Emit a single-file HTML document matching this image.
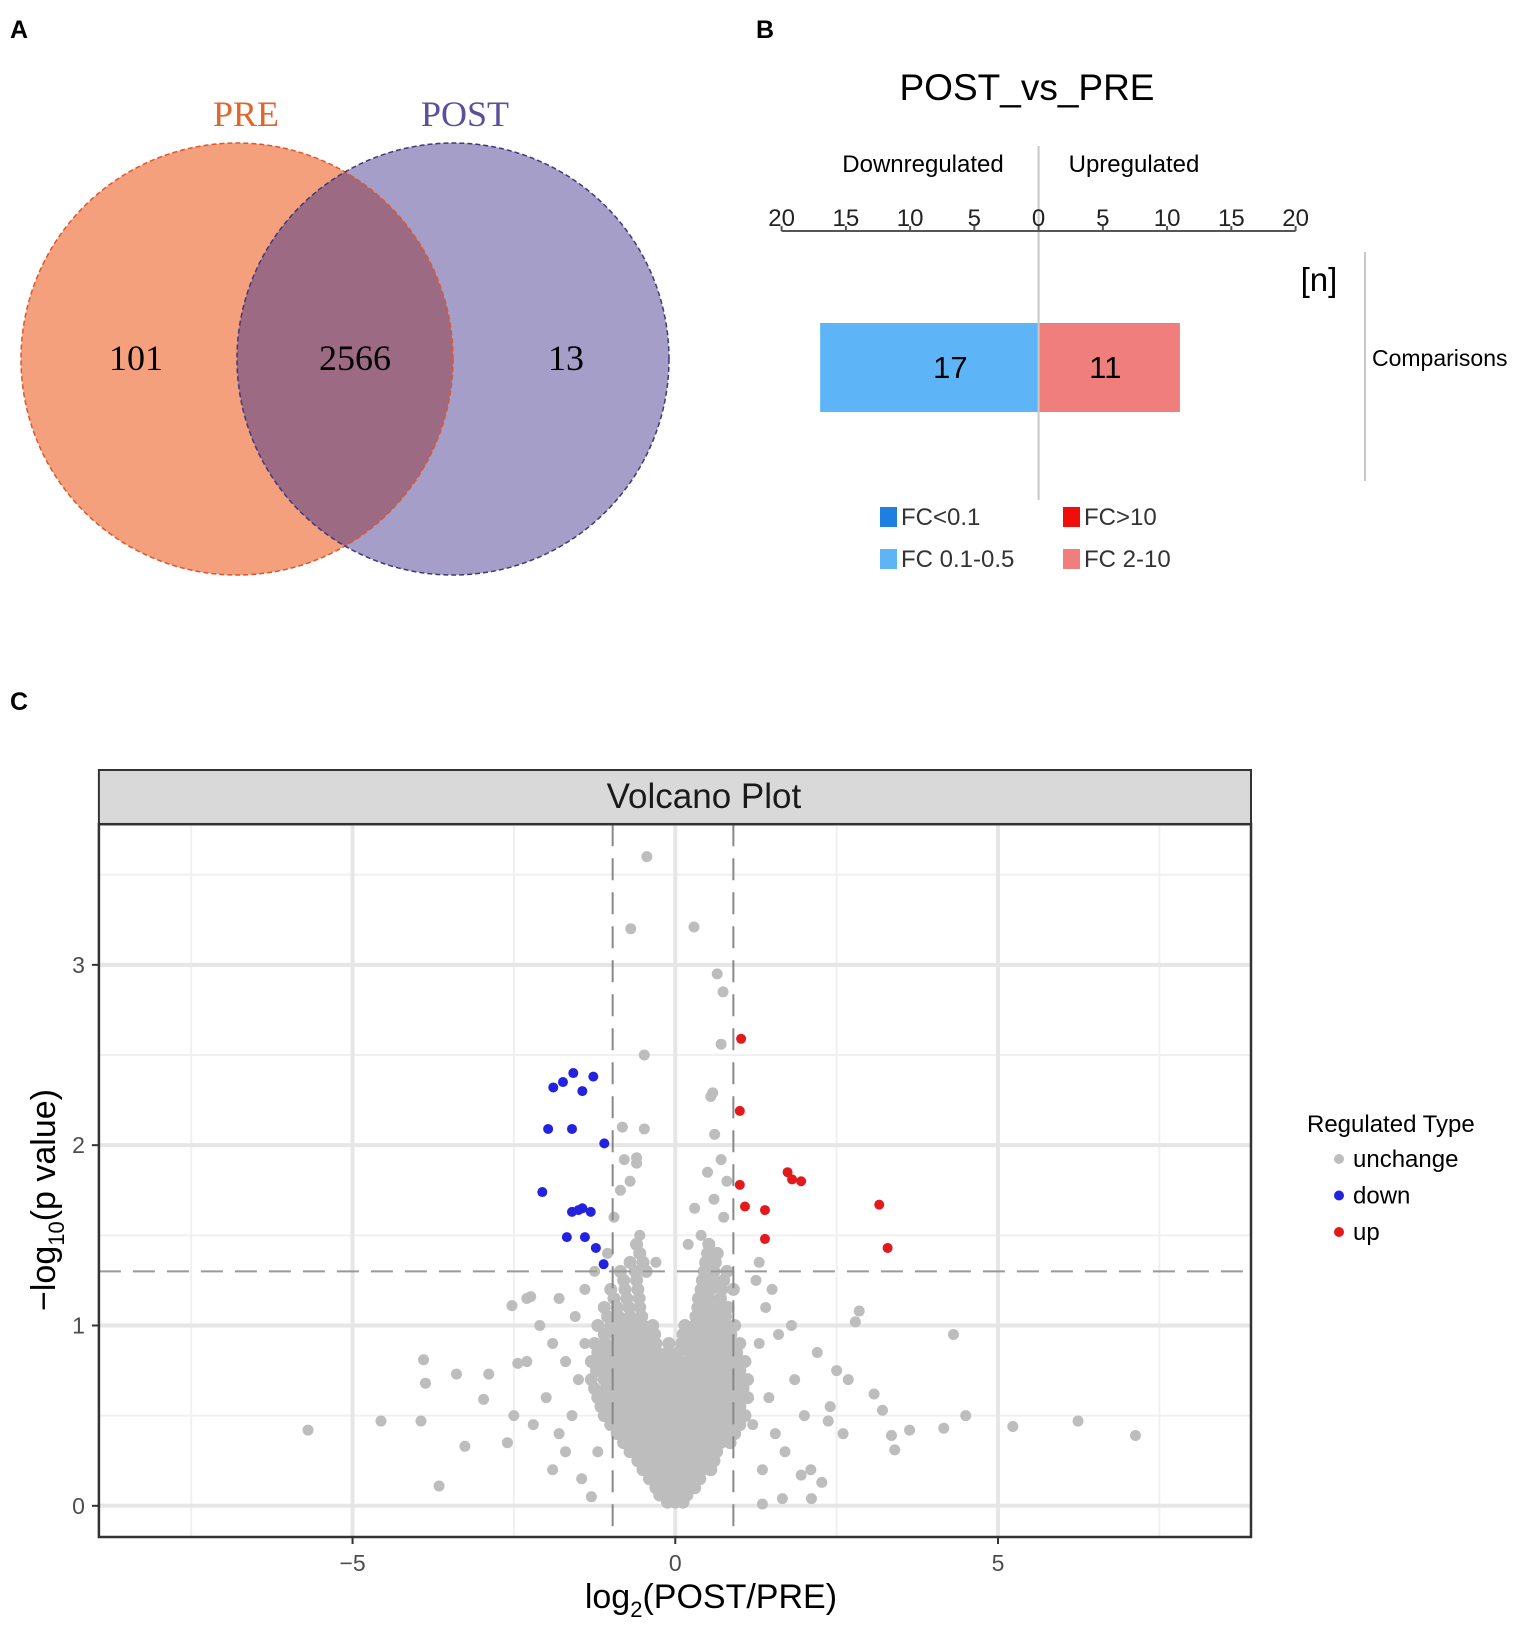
<!DOCTYPE html>
<html><head><meta charset="utf-8"><style>
html,body{margin:0;padding:0;background:#fff}
svg{display:block;font-family:"Liberation Sans",sans-serif}
</style></head><body>
<svg id="fig" width="1535" height="1636" viewBox="0 0 1535 1636" xmlns="http://www.w3.org/2000/svg">
<text x="10" y="38" font-size="25" font-weight="bold">A</text>
<text x="756" y="38" font-size="25" font-weight="bold">B</text>
<text x="10" y="710" font-size="25" font-weight="bold">C</text>

<g font-family="Liberation Serif,serif">
<defs><clipPath id="clipPre"><circle cx="237" cy="359" r="216"/></clipPath></defs>
<circle cx="237" cy="359" r="216" fill="#f4a07d"/>
<circle cx="453" cy="359" r="216" fill="#a49ec9"/>
<circle cx="453" cy="359" r="216" fill="#9d6a83" clip-path="url(#clipPre)"/>
<circle cx="237" cy="359" r="216" fill="none" stroke="#e0552b" stroke-width="1.5" stroke-dasharray="5,3"/>
<circle cx="453" cy="359" r="216" fill="none" stroke="#3d3a7a" stroke-width="1.5" stroke-dasharray="5,3"/>
<text x="246" y="126" font-size="36" fill="#e0662e" text-anchor="middle">PRE</text>
<text x="465" y="126" font-size="36" fill="#5a4f9a" text-anchor="middle">POST</text>
<text x="136" y="370" font-size="36" text-anchor="middle">101</text>
<text x="355" y="370" font-size="36" text-anchor="middle">2566</text>
<text x="566" y="370" font-size="36" text-anchor="middle">13</text>
</g>

<g id="barB"></g>
<g id="volc"></g>
</svg>
<script>
// ---------- Panel B data ----------
const barTicks=[20,15,10,5,0,5,10,15,20];
const downCount=17;
const upCount=11;
// ---------- Volcano data ----------
const xTicks=[-5,0,5];
const yTicks=[0,1,2,3];
const downX=[-1.89,-1.74,-1.58,-1.27,-1.44,-1.97,-1.6,-1.1,-2.06,-1.6,-1.44,-1.31,-1.5,-1.68,-1.4,-1.23,-1.11];
const downY=[2.32,2.35,2.40,2.38,2.30,2.09,2.09,2.01,1.74,1.63,1.65,1.63,1.64,1.49,1.49,1.43,1.34];
const upX=[1.02,1.0,1.0,1.08,1.39,1.39,1.74,1.81,1.95,3.16,3.29];
const upY=[2.59,2.19,1.78,1.66,1.64,1.48,1.85,1.81,1.80,1.67,1.43];
const grayX=[-0.44,-0.69,0.29,0.65,0.74,-0.48,0.71,0.58,0.55,-0.48,-0.82,-0.79,-0.6,0.61,0.71,-5.69,-4.56,-3.9,-3.87,-3.94,-3.66,-3.39,-3.26,-2.89,-2.97,-2.53,-2.44,-2.24,4.31,4.5,5.23,6.24,7.13,2.79,2.85,3.21,3.35,3.4,3.63,4.16,2.68,2.37,2.11,1.66,1.35,1.95,2.27,3.08,
-1.4,-1.5,-1.6,-1.8,-1.9,-1.7,-2.0,-2.2,-1.55,-1.8,-2.1,-2.3,-2.5,-2.6,-1.45,-1.3,-1.9,-2.3,-1.7,-1.4,1.3,1.45,1.55,1.7,1.85,2.0,2.1,1.4,1.6,1.8,2.2,2.4,2.5,1.25,1.3,1.35,2.6,1.5,1.2,-1.2,-1.25,-1.05,-0.95,-0.7,-0.55,0.4,0.6,0.75,0.2,-0.3,-0.6,0.5,0.8,-0.85,0.3];
const grayY=[3.6,3.2,3.21,2.95,2.85,2.5,2.56,2.29,2.27,2.09,2.1,1.92,1.93,2.06,1.92,0.42,0.47,0.81,0.68,0.47,0.11,0.73,0.33,0.73,0.59,1.11,0.79,1.16,0.95,0.5,0.44,0.47,0.39,1.02,1.08,0.53,0.39,0.31,0.42,0.43,0.7,0.47,0.04,0.04,0.01,0.17,0.13,0.62,
0.9,0.7,0.5,0.4,0.2,0.3,0.6,0.45,1.05,1.15,1.0,0.8,0.5,0.35,0.15,0.05,0.9,1.15,0.8,1.2,0.9,0.6,0.4,0.3,0.7,0.5,0.2,1.1,0.95,1.0,0.85,0.55,0.75,1.25,1.35,0.2,0.4,1.2,0.45,0.3,1.3,1.4,1.6,1.8,1.5,1.5,1.7,1.6,1.45,1.35,1.9,1.85,1.8,1.75,1.65];
const coreY=[0.02,0.06,0.10,0.15,0.20,0.25,0.30,0.35,0.40,0.45,0.50,0.55,0.60,0.65,0.70,0.75,0.80,0.85,0.90,0.95,1.00,1.05,1.10,1.15,1.20,1.25,1.30,1.35,1.40,1.45];
const coreX=[
[-0.12,0,0.12],
[-0.24,-0.1,0.05,0.18],
[-0.3,-0.18,-0.06,0.06,0.2,0.3],
[-0.4,-0.27,-0.14,0,0.13,0.26,0.38],
[-0.5,-0.37,-0.24,-0.11,0.02,0.15,0.28,0.42,0.55],
[-0.58,-0.45,-0.32,-0.19,-0.06,0.07,0.2,0.33,0.46,0.6],
[-0.7,-0.55,-0.42,-0.29,-0.16,-0.03,0.1,0.23,0.36,0.5,0.64],
[-0.8,-0.66,-0.52,-0.38,-0.25,-0.12,0.01,0.14,0.27,0.41,0.55,0.7,0.85],
[-0.9,-0.75,-0.6,-0.47,-0.34,-0.21,-0.08,0.05,0.18,0.31,0.45,0.6,0.75,0.92],
[-1.0,-0.84,-0.68,-0.54,-0.41,-0.28,-0.15,-0.02,0.11,0.24,0.38,0.52,0.67,0.82,1.0],
[-1.1,-0.93,-0.77,-0.62,-0.48,-0.35,-0.22,-0.09,0.04,0.17,0.3,0.44,0.58,0.73,0.9,1.08],
[-1.15,-0.98,-0.83,-0.68,-0.54,-0.4,-0.27,-0.14,-0.01,0.12,0.25,0.39,0.53,0.68,0.84,1.0],
[-1.2,-1.02,-0.87,-0.72,-0.58,-0.45,-0.32,-0.19,-0.06,0.07,0.2,0.34,0.48,0.62,0.78,0.95,1.12],
[-1.25,-1.07,-0.9,-0.75,-0.61,-0.48,-0.35,-0.22,-0.09,0.04,0.17,0.3,0.44,0.58,0.73,0.9,1.05],
[-1.3,-1.1,-0.93,-0.78,-0.64,-0.5,-0.37,-0.24,-0.11,0.0,0.1,0.23,0.36,0.5,0.64,0.8,0.96,1.12],
[-1.22,-1.05,-0.88,-0.73,-0.59,-0.45,-0.32,-0.18,-0.05,0.05,0.15,0.28,0.42,0.56,0.7,0.85,1.0],
[-1.3,-1.12,-0.95,-0.8,-0.65,-0.5,-0.37,-0.22,-0.08,0.06,0.2,0.33,0.47,0.61,0.76,0.92,1.08],
[-1.2,-1.02,-0.86,-0.71,-0.56,-0.42,-0.28,-0.12,0.05,0.22,0.36,0.5,0.64,0.8,0.95],
[-1.25,-1.08,-0.9,-0.75,-0.6,-0.46,-0.3,-0.1,0.1,0.25,0.39,0.53,0.68,0.83,1.0],
[-1.1,-0.93,-0.78,-0.62,-0.48,-0.32,0.12,0.28,0.42,0.56,0.7,0.86],
[-1.2,-1.0,-0.83,-0.66,-0.5,-0.35,0.15,0.3,0.45,0.6,0.75,0.92],
[-1.05,-0.88,-0.7,-0.52,0.32,0.47,0.62,0.78],
[-1.1,-0.9,-0.72,-0.55,0.35,0.5,0.66,0.82],
[-0.95,-0.75,-0.56,0.36,0.52,0.7],
[-1.0,-0.78,-0.58,0.4,0.55,0.72,0.9],
[-0.8,-0.6,0.42,0.58,0.75],
[-0.85,-0.62,-0.45,0.45,0.6,0.8],
[-0.7,-0.5,0.47,0.62],
[-0.55,0.5,0.65],
[-0.6,0.52]];
const hThresh=1.3;
const vThresh=[-0.97,0.9];
const legendLabels=['unchange','down','up'];
</script>
<script>
const NS='http://www.w3.org/2000/svg';
function mk(parent,tag,attrs,text){const e=document.createElementNS(NS,tag);for(const k in attrs)e.setAttribute(k,attrs[k]);if(text!==undefined)e.textContent=text;parent.appendChild(e);return e;}

// ---------- Panel B ----------
(function(){
const g=document.getElementById('barB');
const zero=1038.6, unit=12.85;
const bx=v=>zero+v*unit;
let t=mk(g,'text',{x:1027,y:100,'font-size':37,'text-anchor':'middle'},'POST_vs_PRE');

t=mk(g,'text',{x:923,y:172,'font-size':24,'text-anchor':'middle'},'Downregulated');

t=mk(g,'text',{x:1134,y:172,'font-size':24,'text-anchor':'middle'},'Upregulated');

let l=mk(g,'line',{x1:zero,x2:zero,y1:146,y2:500,stroke:'#c8c8c8','stroke-width':2});

l=mk(g,'line',{x1:bx(-20),x2:bx(20),y1:231,y2:231,stroke:'#555','stroke-width':2});

barTicks.forEach((v,i)=>{const sgn=i<4?-1:1;const x=bx(sgn*v);
 mk(g,'line',{x1:x,x2:x,y1:231,y2:226,stroke:'#555','stroke-width':2});
 const tt=mk(g,'text',{x:x,y:226,'font-size':24,'text-anchor':'middle',fill:'#222'},String(v));
 });
let r=mk(g,'rect',{x:bx(-downCount),y:323,width:downCount*unit,height:89,fill:'#5db5f7'});

r=mk(g,'rect',{x:zero,y:323,width:upCount*unit,height:89,fill:'#ef7e7c'});

t=mk(g,'text',{x:bx(-downCount/2)+21,y:378,'font-size':31,'text-anchor':'middle'},String(downCount));

t=mk(g,'text',{x:bx(upCount/2)-4,y:378,'font-size':31,'text-anchor':'middle'},String(upCount));

mk(g,'line',{x1:zero,x2:zero,y1:323,y2:412,stroke:'#c8c8c8','stroke-width':2});
t=mk(g,'text',{x:1319,y:291,'font-size':33,'text-anchor':'middle'},'[n]');

l=mk(g,'line',{x1:1365,x2:1365,y1:252,y2:481,stroke:'#c8c8c8','stroke-width':2});

t=mk(g,'text',{x:1372,y:366,'font-size':23},'Comparisons');

const leg=[[880,507,'#1e7fe0','FC<0.1'],[1063,507,'#f20d0d','FC>10'],[880,549,'#5db5f7','FC 0.1-0.5'],[1063,549,'#ef7e7c','FC 2-10']];
leg.forEach(d=>{const gg=mk(g,'g',{});
 mk(gg,'rect',{x:d[0],y:d[1],width:17,height:20,fill:d[2]});
 mk(gg,'text',{x:d[0]+21,y:d[1]+18,'font-size':24,fill:'#333'},d[3]);});
})();

// ---------- Panel C volcano ----------
(function(){
const g=document.getElementById('volc');
const L=98.9,R=1251,T=824.2,B=1537;
const xmin=-8.93,xmax=8.92,ymin=-0.173,ymax=3.78;
const sx=v=>L+(v-xmin)/(xmax-xmin)*(R-L);
const sy=v=>B-(v-ymin)/(ymax-ymin)*(B-T);
let r=mk(g,'rect',{x:L,y:770,width:R-L,height:T-770,fill:'#d9d9d9',stroke:'#333','stroke-width':2});

let t=mk(g,'text',{x:(L+R)/2+29,y:808,'font-size':35,'text-anchor':'middle',fill:'#1a1a1a'},'Volcano Plot');

[-7.5,-2.5,2.5,7.5].forEach(v=>mk(g,'line',{x1:sx(v),x2:sx(v),y1:T,y2:B,stroke:'#f0f0f0','stroke-width':2}));
[0.5,1.5,2.5,3.5].forEach(v=>mk(g,'line',{x1:L,x2:R,y1:sy(v),y2:sy(v),stroke:'#f0f0f0','stroke-width':2}));
xTicks.forEach(v=>mk(g,'line',{x1:sx(v),x2:sx(v),y1:T,y2:B,stroke:'#e6e6e6','stroke-width':4}));
yTicks.forEach(v=>mk(g,'line',{x1:L,x2:R,y1:sy(v),y2:sy(v),stroke:'#e6e6e6','stroke-width':4}));
const pts=mk(g,'g',{fill:'#bdbdbd'});

coreY.forEach((yv,i)=>coreX[i].forEach(xv=>{mk(pts,'circle',{cx:sx(xv),cy:sy(yv),r:6.5});}));
grayX.forEach((xv,i)=>{mk(pts,'circle',{cx:sx(xv),cy:sy(grayY[i]),r:5.5});});
let l=mk(g,'line',{x1:L,x2:R,y1:sy(hThresh),y2:sy(hThresh),stroke:'#999','stroke-width':2,'stroke-dasharray':'22,12'});

vThresh.forEach(v=>{const ll=mk(g,'line',{x1:sx(v),x2:sx(v),y1:T,y2:B,stroke:'#888','stroke-width':2,'stroke-dasharray':'22,12'});
 });
const dg=mk(g,'g',{fill:'#2222e0'});
downX.forEach((xv,i)=>mk(dg,'circle',{cx:sx(xv),cy:sy(downY[i]),r:5}));
const ug=mk(g,'g',{fill:'#e31a1c'});
upX.forEach((xv,i)=>mk(ug,'circle',{cx:sx(xv),cy:sy(upY[i]),r:5}));
r=mk(g,'rect',{x:L,y:T,width:R-L,height:B-T,fill:'none',stroke:'#333','stroke-width':2.5});

xTicks.forEach(v=>{mk(g,'line',{x1:sx(v),x2:sx(v),y1:B,y2:B+7,stroke:'#333','stroke-width':2});
 const tt=mk(g,'text',{x:sx(v),y:B+34,'font-size':23,'text-anchor':'middle',fill:'#4d4d4d'},v<0?'\u2212'+(-v):String(v));
 });
yTicks.forEach(v=>{mk(g,'line',{x1:L-7,x2:L,y1:sy(v),y2:sy(v),stroke:'#333','stroke-width':2});
 const tt=mk(g,'text',{x:L-14,y:sy(v)+8,'font-size':23,'text-anchor':'end',fill:'#4d4d4d'},String(v));
 });
t=mk(g,'text',{x:(L+R)/2+36,y:1608,'font-size':34,'text-anchor':'middle'});

t.innerHTML='log<tspan font-size="22" dy="9">2</tspan><tspan dy="-9">(POST/PRE)</tspan>';
t=mk(g,'text',{x:0,y:0,'font-size':34,'text-anchor':'middle',transform:'translate(55,1200) rotate(-90)'});

t.innerHTML='\u2212log<tspan font-size="22" dy="9">10</tspan><tspan dy="-9">(p value)</tspan>';
t=mk(g,'text',{x:1307,y:1132,'font-size':24},'Regulated Type');

const lc=['#bdbdbd','#2222e0','#e31a1c'];
legendLabels.forEach((s,i)=>{const gg=mk(g,'g',{});
 const y=1159+i*36.5;mk(gg,'circle',{cx:1339,cy:y,r:5,fill:lc[i]});
 mk(gg,'text',{x:1353,y:y+8,'font-size':24},s);});
})();
</script>
</body></html>
